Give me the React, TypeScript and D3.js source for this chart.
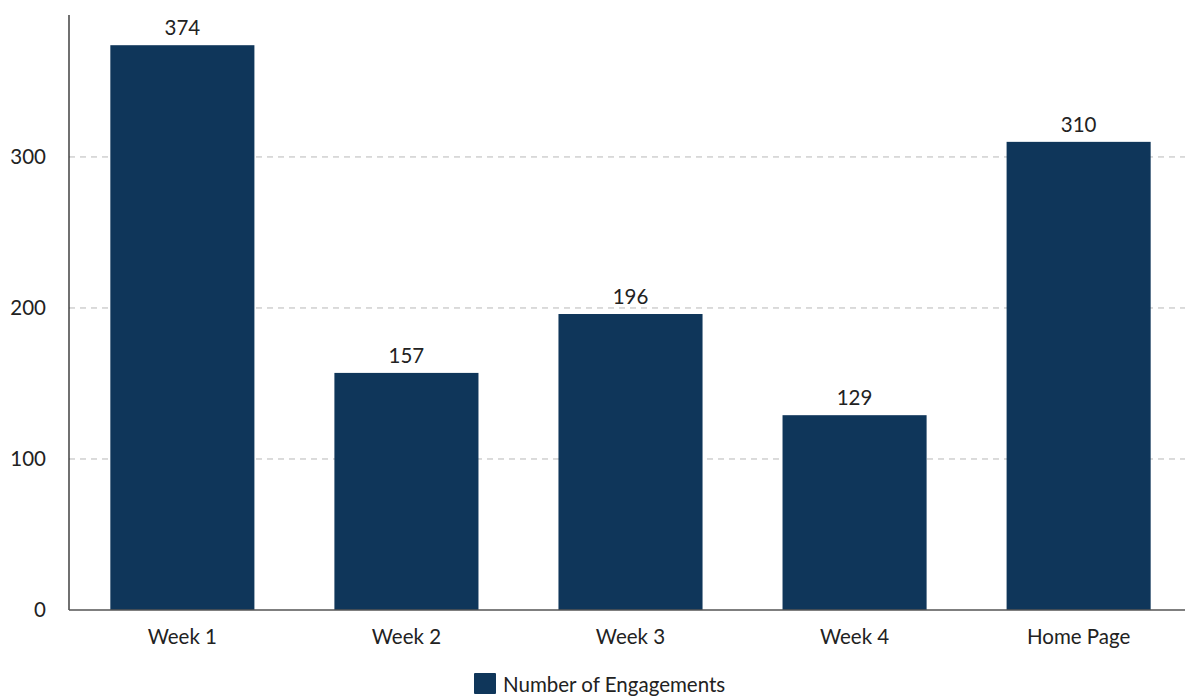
import React, { useRef, useEffect } from "react";
import * as d3 from "d3";

const categories = ["Week 1", "Week 2", "Week 3", "Week 4", "Home Page"];
const engagements = [374, 157, 196, 129, 310];
const yTicks = [0, 100, 200, 300];
const seriesName = "Number of Engagements";

const W = 1185;
const H = 697;
const FONT = "Lato, 'Noto Sans', sans-serif";
const FS = 20.5;
const BAR = "#0f365a";

export default function App() {
  const svgRef = useRef<SVGSVGElement>(null);

  useEffect(() => {
    if (!svgRef.current) return;
    const svg = d3.select(svgRef.current);
    svg.selectAll("*").remove();

    const left = 69;
    const bottom = 610;
    const top = 15;

    const x = d3.scaleBand<string>()
      .domain(categories)
      .range([left + 1, 1191])
      .paddingInner(0.357)
      .paddingOuter(0.18);

    const y = d3.scaleLinear().domain([0, 394]).range([bottom, top]);

    // dashed grid
    svg.append("g")
      .selectAll("line")
      .data(yTicks.filter(d => d > 0))
      .join("line")
      .attr("x1", left)
      .attr("x2", W)
      .attr("y1", d => y(d))
      .attr("y2", d => y(d))
      .attr("stroke", "#b8b8b8")
      .attr("stroke-width", 1)
      .attr("stroke-dasharray", "6,5");

    // y tick labels
    svg.append("g")
      .selectAll("text")
      .data(yTicks)
      .join("text")
      .attr("x", 46)
      .attr("y", d => y(d))
      .attr("dy", "0.35em")
      .attr("text-anchor", "end")
      .attr("font-family", FONT)
      .attr("font-size", FS)
      .attr("fill", "#222")
      .text(d => d);

    // bars
    svg.append("g")
      .selectAll("rect")
      .data(engagements)
      .join("rect")
      .attr("x", (_, i) => x(categories[i])!)
      .attr("y", d => y(d))
      .attr("width", x.bandwidth())
      .attr("height", d => bottom - y(d))
      .attr("fill", BAR);

    // value labels
    svg.append("g")
      .selectAll("text")
      .data(engagements)
      .join("text")
      .attr("x", (_, i) => x(categories[i])! + x.bandwidth() / 2)
      .attr("y", d => y(d) - 10)
      .attr("text-anchor", "middle")
      .attr("font-family", FONT)
      .attr("font-size", FS)
      .attr("fill", "#222")
      .text(d => d);

    // axes lines
    svg.append("line")
      .attr("x1", left).attr("x2", left)
      .attr("y1", top).attr("y2", bottom)
      .attr("stroke", "#111").attr("stroke-width", 1.2);
    svg.append("line")
      .attr("x1", left).attr("x2", W)
      .attr("y1", bottom).attr("y2", bottom)
      .attr("stroke", "#555").attr("stroke-width", 1.5);

    // x labels
    svg.append("g")
      .selectAll("text")
      .data(categories)
      .join("text")
      .attr("x", d => x(d)! + x.bandwidth() / 2)
      .attr("y", 644)
      .attr("text-anchor", "middle")
      .attr("font-family", FONT)
      .attr("font-size", FS)
      .attr("fill", "#222")
      .text(d => d);

    // legend
    const lg = svg.append("g").attr("transform", "translate(474,673)");
    lg.append("rect").attr("width", 22).attr("height", 21).attr("fill", BAR).attr("rx", 1);
    lg.append("text")
      .attr("x", 29)
      .attr("y", 19)
      .attr("font-family", FONT)
      .attr("font-size", FS)
      .attr("fill", "#222")
      .text(seriesName);
  }, []);

  return (
    <div style={{ position: "fixed", left: 0, top: 0, background: "#fff" }}>
      <svg ref={svgRef} width={W} height={H} style={{ display: "block" }} />
    </div>
  );
}
